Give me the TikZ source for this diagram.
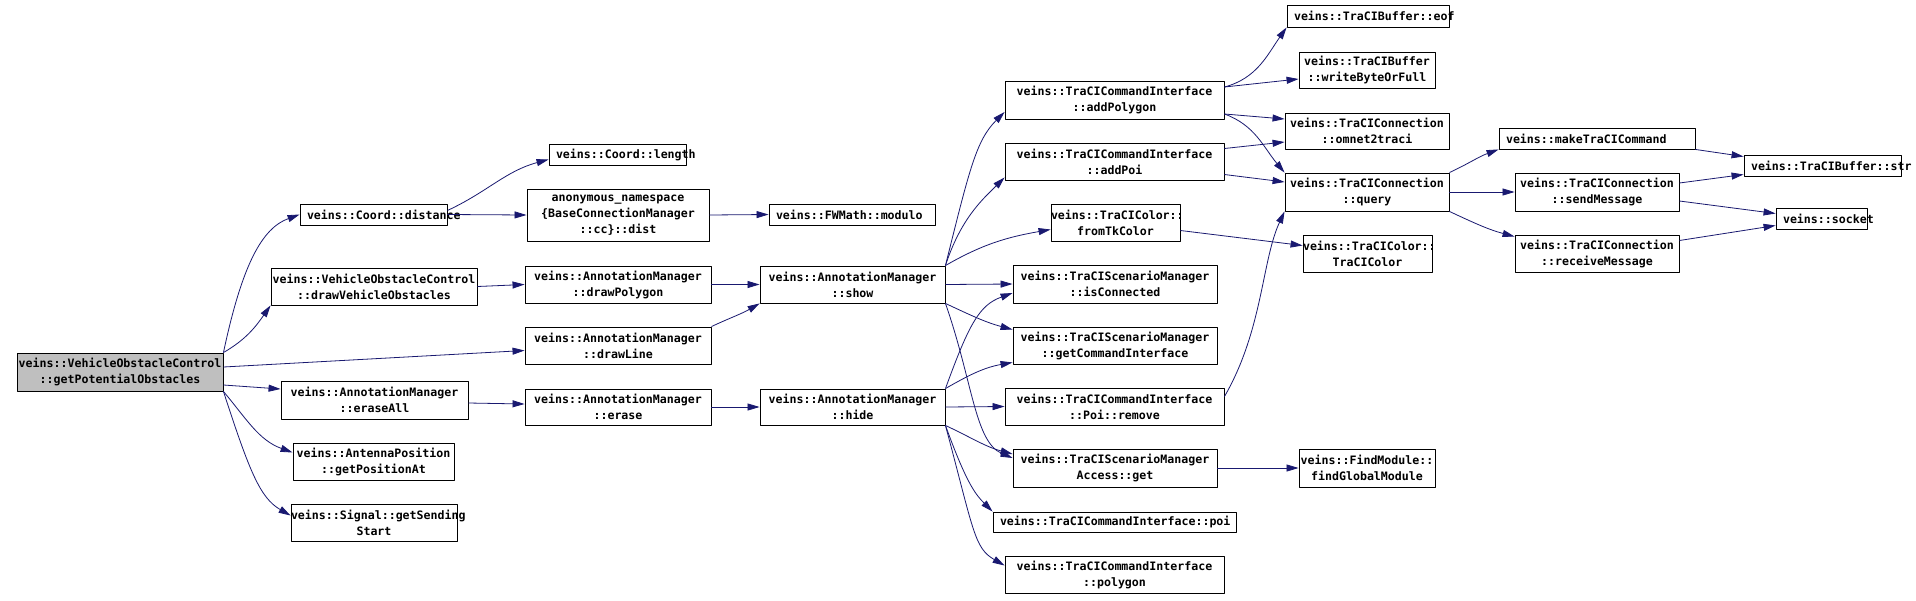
\documentclass[tikz,border=0pt]{standalone}
\usepackage{fontspec}
\setmonofont{DejaVu Sans Mono}
\usetikzlibrary{arrows.meta}
\definecolor{callblue}{RGB}{25,25,112}
\definecolor{rootgray}{RGB}{191,191,191}
\begin{document}
\begin{tikzpicture}[x=1pt, y=1pt, line join=round,
	func/.style={draw=black, line width=0.9pt, rectangle, inner sep=0pt, align=center,
		font=\ttfamily\bfseries\fontsize{11.6}{16}\selectfont},
	func1/.style={func, align=left, inner xsep=7pt, minimum height=21pt},
	rootfunc/.style={func, fill=rootgray},
	call/.style={draw=callblue, line width=0.8pt, -{Triangle[length=12pt,width=7pt]}}]
	%%Khung
	\useasboundingbox[fill=white] (0,0) rectangle (1916,-600);
	%%Cot 1, 2
	\node[rootfunc, minimum width=206pt, minimum height=38pt] (root) at (120,-372) {veins::VehicleObstacleControl\\::getPotentialObstacles};
	\node[func1, text width=133pt] (dist) at (373.5,-214.5) {veins::Coord::distance};
	\node[func, minimum width=206pt, minimum height=37pt] (drawVeh) at (374,-286.5) {veins::VehicleObstacleControl\\::drawVehicleObstacles};
	\node[func, minimum width=187pt, minimum height=38pt] (eraseAll) at (374.5,-400) {veins::AnnotationManager\\::eraseAll};
	\node[func, minimum width=161pt, minimum height=37pt] (posAt) at (373.5,-461.5) {veins::AntennaPosition\\::getPositionAt};
	\node[func, text width=166pt, minimum height=37pt] (sendStart) at (374,-522.5) {veins::Signal::getSending\\Start};
	%%Cot 3, 4
	\node[func1, text width=123pt] (length) at (617.5,-154.5) {veins::Coord::length};
	\node[func, minimum width=182pt, minimum height=52pt] (ccDist) at (618,-215) {anonymous\_namespace\\\{BaseConnectionManager\\::cc\}::dist};
	\node[func, minimum width=186pt, minimum height=37pt] (drawPoly) at (618,-284.5) {veins::AnnotationManager\\::drawPolygon};
	\node[func, minimum width=186pt, minimum height=37pt] (drawLine) at (618,-345.5) {veins::AnnotationManager\\::drawLine};
	\node[func, minimum width=186pt, minimum height=36pt] (erase) at (618,-407) {veins::AnnotationManager\\::erase};
	\node[func1, text width=152pt] (modulo) at (852,-214.5) {veins::FWMath::modulo};
	\node[func, minimum width=185pt, minimum height=37pt] (show) at (852.5,-284.5) {veins::AnnotationManager\\::show};
	\node[func, minimum width=185pt, minimum height=36pt] (hide) at (852.5,-407) {veins::AnnotationManager\\::hide};
	%%Cot 5
	\node[func, minimum width=219pt, minimum height=38pt] (addPolygon) at (1114.5,-100) {veins::TraCICommandInterface\\::addPolygon};
	\node[func, minimum width=219pt, minimum height=37pt] (addPoi) at (1114.5,-161.5) {veins::TraCICommandInterface\\::addPoi};
	\node[func, text width=129pt, minimum height=37pt] (fromTk) at (1115.5,-222.5) {veins::TraCIColor::\\fromTkColor};
	\node[func, minimum width=204pt, minimum height=38pt] (isConn) at (1115,-284) {veins::TraCIScenarioManager\\::isConnected};
	\node[func, minimum width=204pt, minimum height=37pt] (getCmd) at (1115,-345.5) {veins::TraCIScenarioManager\\::getCommandInterface};
	\node[func, minimum width=219pt, minimum height=37pt] (poiRemove) at (1114.5,-406.5) {veins::TraCICommandInterface\\::Poi::remove};
	\node[func, minimum width=204pt, minimum height=38pt] (access) at (1115,-468) {veins::TraCIScenarioManager\\Access::get};
	\node[func1, text width=229pt, minimum height=20pt] (poi) at (1114.5,-522) {veins::TraCICommandInterface::poi};
	\node[func, minimum width=219pt, minimum height=37pt] (polygon) at (1114.5,-574.5) {veins::TraCICommandInterface\\::polygon};
	%%Cot 6
	\node[func1, text width=148pt, minimum height=22pt] (eof) at (1368,-16) {veins::TraCIBuffer::eof};
	\node[func, minimum width=136pt, minimum height=36pt] (writeByte) at (1367,-70) {veins::TraCIBuffer\\::writeByteOrFull};
	\node[func, minimum width=164pt, minimum height=36pt] (omnet) at (1367,-131) {veins::TraCIConnection\\::omnet2traci};
	\node[func, minimum width=164pt, minimum height=38pt] (query) at (1367,-192) {veins::TraCIConnection\\::query};
	\node[func, text width=129pt, minimum height=37pt] (tcColor) at (1367.5,-253.5) {veins::TraCIColor::\\TraCIColor};
	\node[func, minimum width=136pt, minimum height=38pt] (findGlobal) at (1367,-468) {veins::FindModule::\\findGlobalModule};
	%%Cot 7, 8
	\node[func1, text width=182pt] (makeCmd) at (1597,-138.5) {veins::makeTraCICommand};
	\node[func, minimum width=164pt, minimum height=38pt] (sendMsg) at (1597,-192) {veins::TraCIConnection\\::sendMessage};
	\node[func, minimum width=164pt, minimum height=37pt] (recvMsg) at (1597,-253.5) {veins::TraCIConnection\\::receiveMessage};
	\node[func1, text width=143pt] (str) at (1822.5,-165.5) {veins::TraCIBuffer::str};
	\node[func1, text width=77pt] (socket) at (1821.5,-218.5) {veins::socket};
	%%Cac loi goi tu root
	\draw[call] (root.north east) .. controls +(78:90) and +(200:40) .. (dist.west);
	\draw[call] (root.north east) to[out=30, in=235] (drawVeh.south west);
	\draw[call] ([yshift=5pt]root.east) -- ([yshift=-5pt]drawLine.west);
	\draw[call] ([yshift=-13pt]root.east) -- ([yshift=11pt]eraseAll.west);
	\draw[call] (root.south east) to[out=-50, in=160] ([yshift=9pt]posAt.west);
	\draw[call] (root.south east) .. controls +(-72:85) and +(150:35) .. ([yshift=7pt]sendStart.west);
	%%Cot 2 -> 3 -> 4
	\draw[call] ([yshift=4pt]dist.east) to[out=25, in=195] ([yshift=-5pt]length.west);
	\draw[call] (dist.east) -- (ccDist.west);
	\draw[call] (ccDist.east) -- (modulo.west);
	\draw[call] (drawVeh.east) -- (drawPoly.west);
	\draw[call] (drawPoly.east) -- (show.west);
	\draw[call] (drawLine.north east) to[out=25, in=210] (show.south west);
	\draw[call] ([yshift=-3pt]eraseAll.east) -- ([yshift=3pt]erase.west);
	\draw[call] (erase.east) -- (hide.west);
	%%show
	\draw[call] (show.north east) .. controls +(76:100) and +(225:40) .. ([yshift=-12pt]addPolygon.west);
	\draw[call] (show.north east) .. controls +(72:50) and +(225:30) .. ([yshift=3pt]addPoi.south west);
	\draw[call] (show.north east) to[out=30, in=190] ([yshift=-7pt]fromTk.west);
	\draw[call] (show.east) -- (isConn.west);
	\draw[call] (show.south east) to[out=-25, in=165] ([yshift=-3pt]getCmd.north west);
	\draw[call] (show.south east) .. controls +(-70.7:82) and +(157:41) .. ([yshift=10pt]access.west);
	%%hide
	\draw[call] (hide.north east) .. controls +(70:70) and +(200:35) .. ([yshift=-9pt]isConn.west);
	\draw[call] (hide.north east) to[out=30, in=190] ([yshift=2pt]getCmd.south west);
	\draw[call] (hide.east) -- (poiRemove.west);
	\draw[call] (hide.south east) to[out=-25, in=165] ([yshift=14pt]access.west);
	\draw[call] (hide.south east) .. controls +(-70:60) and +(135:25) .. (poi.north west);
	\draw[call] (hide.south east) .. controls +(-75:110) and +(150:35) .. ([yshift=9pt]polygon.west);
	%%Cot 5 -> 6
	\draw[call] ([yshift=13pt]addPolygon.east) to[out=15, in=235] (eof.south west);
	\draw[call] ([yshift=13pt]addPolygon.east) -- ([yshift=-9pt]writeByte.west);
	\draw[call] ([yshift=-14pt]addPolygon.east) -- ([yshift=12pt]omnet.west);
	\draw[call] ([yshift=-14pt]addPolygon.east) to[out=-20, in=130] (query.north west);
	\draw[call] ([yshift=13pt]addPoi.east) -- ([yshift=-11pt]omnet.west);
	\draw[call] ([yshift=-13pt]addPoi.east) -- ([yshift=10pt]query.west);
	\draw[call] ([yshift=-8pt]fromTk.east) -- ([yshift=8pt]tcColor.west);
	\draw[call] ([yshift=-9pt]poiRemove.north east) .. controls +(60:77) and +(245:54) .. (query.south west);
	\draw[call] (access.east) -- (findGlobal.west);
	%%Cot 6 -> 7 -> 8
	\draw[call] (query.north east) to[out=25, in=200] (makeCmd.south west);
	\draw[call] (query.east) -- (sendMsg.west);
	\draw[call] (query.south east) to[out=-25, in=165] ([yshift=-2pt]recvMsg.north west);
	\draw[call] (makeCmd.south east) -- ([yshift=9pt]str.west);
	\draw[call] ([yshift=9pt]sendMsg.east) -- ([yshift=-9pt]str.west);
	\draw[call] ([yshift=-9pt]sendMsg.east) -- ([yshift=5pt]socket.west);
	\draw[call] ([yshift=13pt]recvMsg.east) -- ([yshift=-7pt]socket.west);
\end{tikzpicture}
\end{document}
